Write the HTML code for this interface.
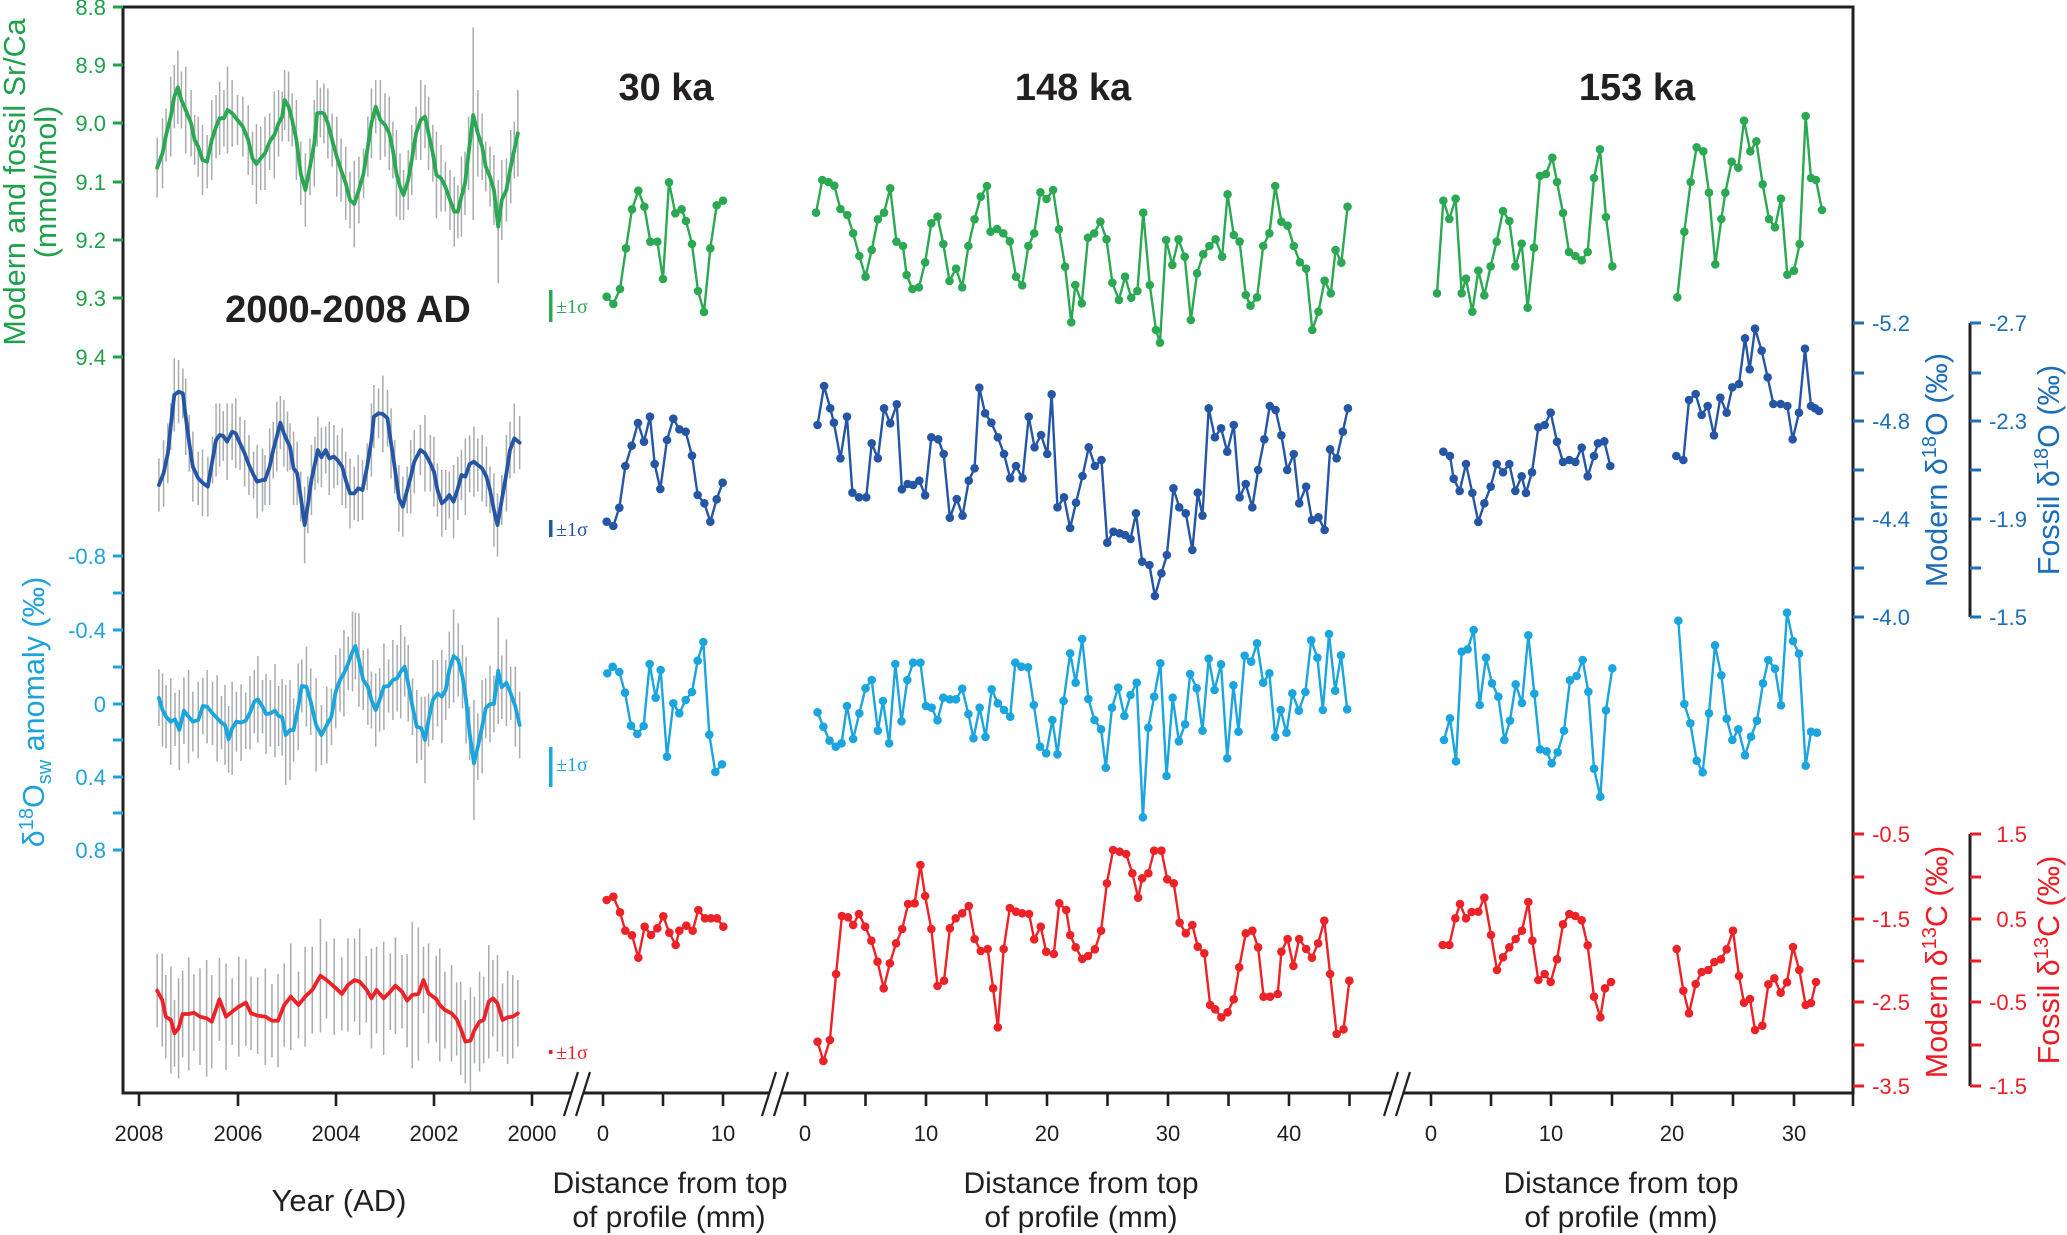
<!DOCTYPE html>
<html><head><meta charset="utf-8"><style>
html,body{margin:0;padding:0;background:#fff;}
svg{display:block;font-family:"Liberation Sans",Arial,sans-serif;}
.ln{fill:none;stroke-linejoin:round;stroke-linecap:round;vector-effect:non-scaling-stroke;}
.bar{fill:none;stroke:#a9abae;stroke-width:1.5;vector-effect:non-scaling-stroke;}
</style></head><body>
<svg width="2067" height="1235" viewBox="0 0 2067 1235" xmlns="http://www.w3.org/2000/svg">
<defs>
<marker id="g3" markerUnits="userSpaceOnUse" overflow="visible" markerWidth="1" markerHeight="1"><ellipse rx="12.9" ry="12.9" fill="#2aa952"/></marker>
<marker id="b3" markerUnits="userSpaceOnUse" overflow="visible" markerWidth="1" markerHeight="1"><ellipse rx="12.9" ry="12.9" fill="#2456a5"/></marker>
<marker id="l3" markerUnits="userSpaceOnUse" overflow="visible" markerWidth="1" markerHeight="1"><ellipse rx="12.9" ry="12.9" fill="#1ba5de"/></marker>
<marker id="r3" markerUnits="userSpaceOnUse" overflow="visible" markerWidth="1" markerHeight="1"><ellipse rx="12.9" ry="12.9" fill="#ec2227"/></marker>
<marker id="g4" markerUnits="userSpaceOnUse" overflow="visible" markerWidth="1" markerHeight="1"><ellipse rx="11.83" ry="12.9" fill="#2aa952"/></marker>
<marker id="b4" markerUnits="userSpaceOnUse" overflow="visible" markerWidth="1" markerHeight="1"><ellipse rx="11.83" ry="12.9" fill="#2456a5"/></marker>
<marker id="l4" markerUnits="userSpaceOnUse" overflow="visible" markerWidth="1" markerHeight="1"><ellipse rx="11.83" ry="12.9" fill="#1ba5de"/></marker>
<marker id="r4" markerUnits="userSpaceOnUse" overflow="visible" markerWidth="1" markerHeight="1"><ellipse rx="11.83" ry="12.9" fill="#ec2227"/></marker>
</defs>
<rect width="2067" height="1235" fill="#fff"/>

<!-- ===== Modern section: error bars ===== -->
<g transform="scale(0.35714,0.33333)">
<path class="bar" d="M440 503m0-90v180M455 460m0-105v210M465 405m0-80v160M478 350m0-120v240M488 290m0-95v190M498 262m0-110v220M508 300m0-85v170M520 330m0-130v260M535 370m0-100v200M545 420m0-75v150M555 440m0-90v180M567 480m0-105v210M580 485m0-80v160M593 420m0-120v240M605 380m0-95v190M615 355m0-110v220M627 355m0-85v170M637 330m0-130v260M650 340m0-100v200M665 360m0-75v150M680 380m0-90v180M695 420m0-105v210M707 475m0-80v160M718 492m0-120v240M730 475m0-95v190M742 460m0-110v220M755 425m0-85v170M768 405m0-130v260M780 370m0-100v200M790 350m0-75v150M797 300m0-90v180M808 320m0-105v210M818 360m0-80v160M830 420m0-120v240M842 520m0-95v190M855 570m0-110v220M868 500m0-85v170M880 430m0-130v260M888 340m0-100v200M897 338m0-75v150M907 340m0-90v180M918 370m0-105v210M930 420m0-80v160M943 470m0-120v240M955 510m0-95v190M968 550m0-110v220M980 600m0-85v170M992 612m0-130v260M1005 570m0-100v200M1018 520m0-75v150M1030 440m0-90v180M1040 370m0-105v210M1052 320m0-80v160M1065 360m0-120v240M1078 375m0-95v190M1090 400m0-110v220M1100 450m0-85v170M1110 520m0-130v260M1120 560m0-100v200M1130 585m0-75v150M1143 540m0-90v180M1153 480m0-105v210M1165 400m0-80v160M1178 360m0-120v240M1190 350m0-95v190M1200 400m0-110v220M1212 460m0-85v170M1222 525m0-130v260M1235 535m0-100v200M1247 560m0-75v150M1260 600m0-90v180M1272 635m0-105v210M1282 635m0-80v160M1292 590m0-120v240M1302 550m0-95v190M1312 460m0-110v220M1325 345m0-263v578M1338 400m0-130v260M1350 440m0-100v200M1360 500m0-75v150M1372 530m0-90v180M1383 570m0-105v210M1395 680m0-140v310M1405 600m0-120v240M1418 570m0-95v190M1430 500m0-110v220M1440 450m0-85v170M1450 400m0-130v260"/>
</g>
<g transform="translate(0,400) scale(0.35714,0.33333)">
<path class="bar" d="M445 255m0-80v160M458 220m0-100v200M470 160m0-90v180M478 80m0-70v140M488 -15m0-110v220M500 -25m0-95v190M512 -20m0-75v150M520 50m0-115v230M530 130m0-85v170M540 200m0-105v210M555 235m0-80v160M567 248m0-100v200M582 260m0-90v180M595 180m0-70v140M605 120m0-110v220M615 105m0-95v190M625 108m0-75v150M636 125m0-115v230M650 95m0-85v170M660 100m0-105v210M672 130m0-80v160M685 160m0-100v200M697 195m0-90v180M710 225m0-70v140M720 245m0-110v220M735 240m0-95v190M742 240m0-75v150M755 200m0-115v230M765 150m0-85v170M775 110m0-105v210M785 68m0-80v160M795 100m0-100v200M805 125m0-90v180M812 140m0-70v140M822 205m0-110v220M832 220m0-95v190M842 290m0-75v150M853 375m0-115v230M862 315m0-85v170M872 240m0-105v210M882 190m0-80v160M890 150m0-100v200M900 172m0-90v180M912 150m0-70v140M922 175m0-110v220M935 170m0-95v190M945 180m0-75v150M958 200m0-115v230M968 240m0-85v170M980 280m0-105v210M992 280m0-80v160M1003 265m0-100v200M1015 270m0-90v180M1028 200m0-70v140M1040 120m0-110v220M1047 50m0-95v190M1060 40m0-75v150M1072 42m0-115v230M1085 55m0-85v170M1095 130m0-105v210M1105 200m0-80v160M1117 295m0-100v200M1128 320m0-90v180M1140 270m0-70v140M1150 230m0-110v220M1160 185m0-95v190M1177 150m0-75v150M1190 160m0-115v230M1205 190m0-85v170M1215 215m0-105v210M1225 270m0-80v160M1237 310m0-100v200M1248 300m0-90v180M1258 285m0-70v140M1270 305m0-110v220M1282 265m0-95v190M1292 225m0-75v150M1303 230m0-115v230M1315 192m0-85v170M1327 185m0-105v210M1338 195m0-80v160M1350 205m0-100v200M1362 230m0-90v180M1372 270m0-70v140M1383 330m0-110v220M1393 375m0-95v190M1405 300m0-75v150M1418 220m0-115v230M1428 150m0-85v170M1440 115m0-105v210M1455 128m0-80v160"/>
<path class="bar" d="M445 893m0-85v170M455 930m0-110v220M465 950m0-95v190M478 965m0-130v260M490 958m0-80v160M502 990m0-120v240M515 932m0-100v200M528 950m0-140v280M540 965m0-90v180M555 960m0-115v230M568 918m0-85v170M580 920m0-110v220M595 940m0-95v190M608 955m0-130v260M620 968m0-80v160M630 975m0-120v240M640 1018m0-100v200M650 985m0-140v280M662 965m0-90v180M675 968m0-115v230M688 962m0-85v170M700 938m0-110v220M712 905m0-95v190M722 898m0-130v260M735 920m0-80v160M745 942m0-120v240M757 940m0-100v200M770 932m0-140v280M780 948m0-90v180M790 952m0-115v230M800 1005m0-150v300M812 990m0-150v300M822 990m0-95v190M835 920m0-130v260M845 858m0-80v160M858 860m0-120v240M870 905m0-100v200M885 975m0-140v280M900 1005m0-90v180M915 975m0-115v230M928 950m0-85v170M940 875m0-110v220M952 840m0-95v190M963 820m0-130v260M975 790m0-80v160M987 755m0-120v240M995 738m0-100v200M1005 780m0-140v280M1017 840m0-90v180M1030 860m0-115v230M1040 900m0-85v170M1052 930m0-110v220M1063 900m0-95v190M1075 860m0-130v260M1088 858m0-80v160M1100 840m0-120v240M1112 835m0-100v200M1122 815m0-140v280M1133 800m0-90v180M1143 850m0-115v230M1155 920m0-85v170M1167 980m0-110v220M1180 985m0-95v190M1190 1020m0-130v260M1200 960m0-80v160M1212 900m0-120v240M1225 880m0-100v200M1237 890m0-140v280M1248 870m0-90v180M1258 810m0-115v230M1270 768m0-140v280M1283 780m0-110v220M1295 830m0-95v190M1305 900m0-130v260M1315 1000m0-80v160M1327 1090m0-190v360M1338 1040m0-100v200M1350 980m0-140v280M1360 925m0-90v180M1372 912m0-115v230M1383 912m0-85v170M1395 812m0-160v320M1405 862m0-95v190M1418 848m0-130v260M1430 880m0-80v160M1443 920m0-120v240M1455 975m0-100v200"/>
</g>
<g transform="translate(0,820) scale(0.5102,0.33333)">
<path class="bar" d="M308 512m0-110v220M318 540m0-140v280M325 590m0-125v250M335 600m0-160v320M342 640m0-100v200M350 625m0-150v300M358 582m0-130v260M370 582m0-170v340M380 578m0-115v230M392 590m0-145v290M405 595m0-175v350M415 605m0-140v280M430 538m0-125v250M443 590m0-160v320M455 575m0-100v200M468 560m0-150v300M482 548m0-130v260M492 580m0-110v220M505 587m0-115v230M520 590m0-145v290M533 602m0-110v220M545 602m0-140v280M557 555m0-125v250M570 530m0-160v320M585 555m0-100v200M598 530m0-150v300M612 510m0-130v260M628 467m0-170v340M640 480m0-115v230M655 500m0-145v290M670 522m0-110v220M682 495m0-140v280M695 480m0-125v250M705 485m0-160v320M718 508m0-100v200M728 535m0-150v300M738 510m0-130v260M752 535m0-170v340M765 515m0-115v230M775 497m0-145v290M788 515m0-110v220M798 542m0-140v280M808 525m0-220v440M820 522m0-200v400M830 480m0-100v200M840 520m0-150v300M855 537m0-130v260M862 555m0-170v340M872 570m0-115v230M885 580m0-145v290M895 597m0-110v220M903 625m0-140v280M912 665m0-125v250M922 662m0-160v320M930 630m0-100v200M940 605m0-150v300M948 600m0-130v260M958 545m0-170v340M966 535m0-115v230M975 550m0-145v290M985 600m0-110v220M995 592m0-140v280M1005 590m0-125v250M1015 580m0-100v200"/>
</g>

<!-- ===== Modern section: lines ===== -->
<g transform="scale(0.35714,0.33333)">
<polyline class="ln" stroke="#2aa952" stroke-width="3.8" points="440,503 455,460 465,405 478,350 488,290 498,262 508,300 520,330 535,370 545,420 555,440 567,480 580,485 593,420 605,380 615,355 627,355 637,330 650,340 665,360 680,380 695,420 707,475 718,492 730,475 742,460 755,425 768,405 780,370 790,350 797,300 808,320 818,360 830,420 842,520 855,570 868,500 880,430 888,340 897,338 907,340 918,370 930,420 943,470 955,510 968,550 980,600 992,612 1005,570 1018,520 1030,440 1040,370 1052,320 1065,360 1078,375 1090,400 1100,450 1110,520 1120,560 1130,585 1143,540 1153,480 1165,400 1178,360 1190,350 1200,400 1212,460 1222,525 1235,535 1247,560 1260,600 1272,635 1282,635 1292,590 1302,550 1312,460 1325,345 1338,400 1350,440 1360,500 1372,530 1383,570 1395,680 1405,600 1418,570 1430,500 1440,450 1450,400"/>
</g>
<g transform="translate(0,400) scale(0.35714,0.33333)">
<polyline class="ln" stroke="#2456a5" stroke-width="3.8" points="445,255 458,220 470,160 478,80 488,-15 500,-25 512,-20 520,50 530,130 540,200 555,235 567,248 582,260 595,180 605,120 615,105 625,108 636,125 650,95 660,100 672,130 685,160 697,195 710,225 720,245 735,240 742,240 755,200 765,150 775,110 785,68 795,100 805,125 812,140 822,205 832,220 842,290 853,375 862,315 872,240 882,190 890,150 900,172 912,150 922,175 935,170 945,180 958,200 968,240 980,280 992,280 1003,265 1015,270 1028,200 1040,120 1047,50 1060,40 1072,42 1085,55 1095,130 1105,200 1117,295 1128,320 1140,270 1150,230 1160,185 1177,150 1190,160 1205,190 1215,215 1225,270 1237,310 1248,300 1258,285 1270,305 1282,265 1292,225 1303,230 1315,192 1327,185 1338,195 1350,205 1362,230 1372,270 1383,330 1393,375 1405,300 1418,220 1428,150 1440,115 1455,128"/>
<polyline class="ln" stroke="#1ba5de" stroke-width="3.8" points="445,893 455,930 465,950 478,965 490,958 502,990 515,932 528,950 540,965 555,960 568,918 580,920 595,940 608,955 620,968 630,975 640,1018 650,985 662,965 675,968 688,962 700,938 712,905 722,898 735,920 745,942 757,940 770,932 780,948 790,952 800,1005 812,990 822,990 835,920 845,858 858,860 870,905 885,975 900,1005 915,975 928,950 940,875 952,840 963,820 975,790 987,755 995,738 1005,780 1017,840 1030,860 1040,900 1052,930 1063,900 1075,860 1088,858 1100,840 1112,835 1122,815 1133,800 1143,850 1155,920 1167,980 1180,985 1190,1020 1200,960 1212,900 1225,880 1237,890 1248,870 1258,810 1270,768 1283,780 1295,830 1305,900 1315,1000 1327,1090 1338,1040 1350,980 1360,925 1372,912 1383,912 1395,812 1405,862 1418,848 1430,880 1443,920 1455,975"/>
</g>
<g transform="translate(0,820) scale(0.5102,0.33333)">
<polyline class="ln" stroke="#ec2227" stroke-width="3.8" points="308,512 318,540 325,590 335,600 342,640 350,625 358,582 370,582 380,578 392,590 405,595 415,605 430,538 443,590 455,575 468,560 482,548 492,580 505,587 520,590 533,602 545,602 557,555 570,530 585,555 598,530 612,510 628,467 640,480 655,500 670,522 682,495 695,480 705,485 718,508 728,535 738,510 752,535 765,515 775,497 788,515 798,542 808,525 820,522 830,480 840,520 855,537 862,555 872,570 885,580 895,597 903,625 912,665 922,662 930,630 940,605 948,600 958,545 966,535 975,550 985,600 995,592 1005,590 1015,580"/>
</g>

<!-- ===== 30 ka ===== -->
<g transform="translate(590,160) scale(0.33333)">
<polyline class="ln" stroke="#2aa952" stroke-width="2.4" marker-start="url(#g3)" marker-mid="url(#g3)" marker-end="url(#g3)" points="50,410 70,432 90,387 108,265 126,148 145,92 163,140 181,245 202,245 219,357 237,67 256,160 275,148 288,183 306,252 324,393 342,456 361,265 380,136 399,122"/>
<polyline class="ln" stroke="#2456a5" stroke-width="2.4" marker-start="url(#b3)" marker-mid="url(#b3)" marker-end="url(#b3)" points="50,1085 70,1098 88,1043 106,918 125,857 144,789 162,845 180,770 194,912 211,987 231,840 250,776 268,808 287,815 306,887 323,1005 343,1030 361,1085 380,1018 398,968"/>
</g>
<g transform="translate(590,560) scale(0.33333)">
<polyline class="ln" stroke="#1ba5de" stroke-width="2.4" marker-start="url(#l3)" marker-mid="url(#l3)" marker-end="url(#l3)" points="52,340 68,320 88,336 105,398 123,497 142,522 161,498 179,312 197,413 212,330 231,590 250,430 268,460 287,420 306,396 323,302 340,246 358,524 376,636 396,613"/>
<polyline class="ln" stroke="#ec2227" stroke-width="2.4" marker-start="url(#r3)" marker-mid="url(#r3)" marker-end="url(#r3)" points="50,1020 70,1010 90,1057 106,1112 126,1126 145,1193 164,1100 183,1125 202,1105 220,1069 238,1118 257,1155 268,1112 289,1097 308,1112 325,1050 345,1075 363,1075 381,1075 400,1100"/>
</g>

<!-- ===== 148 ka ===== -->
<g transform="translate(795,160) scale(0.36352,0.33333)">
<polyline class="ln" stroke="#2aa952" stroke-width="2.4" marker-start="url(#g4)" marker-mid="url(#g4)" marker-end="url(#g4)" points="58,158 75,60 92,66 108,77 125,147 144,165 160,220 177,288 194,350 211,270 228,178 245,158 262,85 279,245 297,258 307,345 323,387 341,382 358,307 375,190 392,170 408,252 425,363 443,326 460,382 477,258 494,178 511,110 528,78 538,215 556,207 573,220 591,244 608,350 625,376 642,258 658,220 675,97 692,117 710,90 726,208 743,320 760,487 771,375 789,430 806,233 823,220 840,185 857,238 873,368 891,420 908,350 925,413 942,393 958,158 976,375 993,510 1004,548 1021,240 1038,315 1055,238 1072,290 1089,480 1106,340 1123,283 1140,258 1157,238 1175,290 1190,103 1207,225 1223,245 1240,405 1253,437 1271,412 1288,258 1305,220 1321,78 1338,185 1355,197 1372,258 1389,307 1406,326 1423,510 1440,455 1457,362 1474,400 1487,270 1503,308 1520,140"/>
<polyline class="ln" stroke="#2456a5" stroke-width="2.4" marker-start="url(#b4)" marker-mid="url(#b4)" marker-end="url(#b4)" points="62,795 80,678 97,745 107,788 125,895 143,770 158,998 176,1012 196,1012 211,850 228,895 245,745 262,790 280,733 294,988 310,972 325,975 342,962 358,1006 375,832 394,838 409,882 426,1073 445,1017 461,1067 478,962 494,925 507,683 523,760 540,788 558,832 575,882 592,955 608,918 626,955 643,770 659,862 677,825 694,882 706,703 722,1042 740,1012 757,1104 773,1028 791,948 808,862 825,918 843,900 859,1148 876,1115 893,1120 908,1125 923,1137 938,1060 955,1205 975,1215 990,1308 1008,1240 1023,1185 1041,985 1057,1042 1075,1060 1093,1170 1108,998 1121,1067 1138,745 1155,832 1172,805 1189,875 1207,795 1223,1012 1240,972 1258,1042 1274,930 1291,838 1306,738 1322,750 1338,826 1354,930 1372,882 1387,1030 1406,980 1422,1080 1440,1072 1457,1110 1472,868 1490,895 1507,815 1521,745"/>
</g>
<g transform="translate(795,560) scale(0.36352,0.33333)">
<polyline class="ln" stroke="#1ba5de" stroke-width="2.4" marker-start="url(#l4)" marker-mid="url(#l4)" marker-end="url(#l4)" points="62,457 78,500 95,542 112,560 128,550 143,438 160,537 177,460 194,385 211,360 228,512 242,423 259,550 276,312 293,484 309,360 325,308 345,308 360,438 376,443 392,481 408,413 426,418 443,418 460,386 477,462 491,535 508,443 524,531 541,388 558,430 575,450 592,470 606,308 623,320 641,322 657,435 674,560 691,580 708,480 722,583 739,423 757,280 772,368 790,237 807,417 824,480 842,508 855,623 872,443 889,383 906,468 923,405 940,368 957,772 972,503 988,410 1005,310 1022,648 1039,413 1056,544 1073,493 1087,342 1105,385 1121,512 1138,296 1154,390 1172,313 1189,595 1206,376 1220,515 1237,287 1255,305 1271,250 1288,368 1305,340 1321,531 1336,450 1352,518 1368,400 1386,452 1404,396 1420,241 1437,293 1452,450 1469,222 1486,392 1502,286 1519,448"/>
<polyline class="ln" stroke="#ec2227" stroke-width="2.4" marker-start="url(#r4)" marker-mid="url(#r4)" marker-end="url(#r4)" points="62,1445 78,1503 96,1440 113,1242 129,1068 146,1072 160,1095 176,1062 193,1100 210,1142 227,1205 244,1285 261,1210 278,1150 295,1107 311,1032 329,1030 345,915 358,1008 375,1107 392,1278 410,1262 426,1105 442,1075 460,1060 478,1038 494,1137 511,1173 530,1167 545,1285 558,1402 574,1167 591,1044 608,1055 625,1060 644,1062 658,1138 676,1100 691,1175 712,1182 727,1030 746,1050 757,1125 772,1162 790,1197 806,1188 825,1168 842,1112 858,970 875,870 893,875 911,882 928,940 944,1013 955,955 972,940 988,872 1008,872 1024,958 1042,970 1058,1088 1075,1120 1093,1095 1108,1160 1126,1180 1142,1335 1156,1348 1173,1372 1190,1357 1207,1318 1222,1222 1240,1120 1258,1112 1274,1162 1289,1310 1307,1310 1328,1302 1338,1175 1355,1137 1371,1218 1387,1137 1406,1167 1422,1193 1439,1150 1456,1082 1472,1242 1490,1422 1509,1408 1525,1262"/>
</g>

<!-- ===== 153 ka ===== -->
<g transform="translate(1415,100) scale(0.33333)">
<polyline class="ln" stroke="#2aa952" stroke-width="2.4" marker-start="url(#g3)" marker-mid="url(#g3)" marker-end="url(#g3)" points="66,580 85,302 103,357 122,296 140,580 153,536 172,635 190,512 208,586 227,499 245,425 264,333 283,363 301,499 320,431 338,623 357,443 375,228 393,222 412,173 426,246 444,339 462,456 481,468 500,481 518,456 537,234 555,148 573,351 592,499"/>
<polyline class="ln" stroke="#2aa952" stroke-width="2.4" marker-start="url(#g3)" marker-mid="url(#g3)" marker-end="url(#g3)" points="787,592 808,395 827,246 845,142 865,154 882,278 901,493 919,357 931,278 950,185 970,203 987,62 1006,154 1024,124 1043,253 1062,357 1080,382 1098,296 1117,524 1137,512 1154,432 1172,48 1188,234 1203,240 1221,330"/>
<polyline class="ln" stroke="#2456a5" stroke-width="2.4" marker-start="url(#b3)" marker-mid="url(#b3)" marker-end="url(#b3)" points="85,1055 105,1068 116,1136 134,1173 153,1092 172,1179 190,1266 208,1210 227,1160 245,1092 264,1117 283,1092 301,1173 320,1129 333,1179 351,1117 370,982 389,975 407,938 426,1025 444,1086 463,1080 481,1086 500,1043 518,1129 537,1068 549,1030 568,1024 586,1098"/>
<polyline class="ln" stroke="#2456a5" stroke-width="2.4" marker-start="url(#b3)" marker-mid="url(#b3)" marker-end="url(#b3)" points="784,1068 805,1080 822,900 842,882 860,945 878,918 897,1006 916,893 935,938 952,862 972,852 990,715 1004,808 1020,686 1040,752 1058,832 1075,912 1097,912 1117,918 1133,1018 1152,938 1170,746 1188,918 1200,925 1212,933"/>
</g>
<g transform="translate(1415,560) scale(0.33333)">
<polyline class="ln" stroke="#1ba5de" stroke-width="2.4" marker-start="url(#l3)" marker-mid="url(#l3)" marker-end="url(#l3)" points="87,540 105,475 123,604 140,275 158,268 176,210 194,435 213,293 231,370 250,410 268,540 285,482 302,373 321,429 340,226 358,401 375,568 395,574 410,610 428,577 447,512 465,361 485,348 503,300 520,395 537,626 556,710 573,451 592,325"/>
<polyline class="ln" stroke="#1ba5de" stroke-width="2.4" marker-start="url(#l3)" marker-mid="url(#l3)" marker-end="url(#l3)" points="790,182 808,432 826,490 845,602 863,637 882,460 900,256 919,346 935,476 952,540 970,508 990,586 1008,530 1026,482 1044,370 1060,300 1080,326 1098,436 1116,158 1134,243 1152,281 1172,617 1188,515 1206,518"/>
<polyline class="ln" stroke="#ec2227" stroke-width="2.4" marker-start="url(#r3)" marker-mid="url(#r3)" marker-end="url(#r3)" points="83,1155 103,1155 121,1075 135,1032 153,1075 170,1056 190,1055 208,1013 228,1125 246,1230 264,1192 283,1162 302,1137 321,1112 340,1026 352,1142 370,1260 389,1242 407,1266 426,1198 444,1093 463,1062 481,1068 500,1081 518,1156 537,1310 556,1372 570,1285 588,1266"/>
<polyline class="ln" stroke="#ec2227" stroke-width="2.4" marker-start="url(#r3)" marker-mid="url(#r3)" marker-end="url(#r3)" points="785,1167 805,1292 822,1360 842,1272 860,1236 880,1230 898,1206 918,1198 935,1168 954,1112 972,1248 987,1328 1005,1317 1020,1410 1042,1397 1060,1273 1078,1255 1097,1298 1116,1267 1134,1161 1153,1230 1172,1335 1188,1329 1203,1266"/>
</g>

<!-- ===== Axes frame ===== -->
<g stroke="#231f20" stroke-width="3" fill="none">
<line x1="123" y1="5.5" x2="123" y2="1094.5"/>
<line x1="121.5" y1="7" x2="1854.5" y2="7"/>
<line x1="1853" y1="5.5" x2="1853" y2="1094.5"/>
<line x1="121.5" y1="1093" x2="1854.5" y2="1093"/>
<line x1="1970" y1="323" x2="1970" y2="617"/>
<line x1="1970" y1="834" x2="1970" y2="1086"/>
</g>
<!-- bottom ticks -->
<g stroke="#231f20" stroke-width="2.6">
<path d="M139 1093V1106M238 1093V1106M336 1093V1106M434 1093V1106M532 1093V1106M603 1093V1106M663 1093V1106M723 1093V1106M805 1093V1106M865.5 1093V1106M926 1093V1106M986.5 1093V1106M1047 1093V1106M1107.5 1093V1106M1168 1093V1106M1228.5 1093V1106M1289 1093V1106M1349.5 1093V1106M1431 1093V1106M1491 1093V1106M1551 1093V1106M1612 1093V1106M1672 1093V1106M1733 1093V1106M1794 1093V1106M1853 1093V1106"/>
</g>
<!-- axis breaks -->
<g>
<polygon points="564,1116 578,1072 590,1072 576,1116" fill="#fff"/>
<polygon points="762,1116 776,1072 788,1072 774,1116" fill="#fff"/>
<polygon points="1384,1116 1398,1072 1410,1072 1396,1116" fill="#fff"/>
<g stroke="#231f20" stroke-width="2.2">
<line x1="564" y1="1116" x2="578" y2="1072"/><line x1="576" y1="1116" x2="590" y2="1072"/>
<line x1="762" y1="1116" x2="776" y2="1072"/><line x1="774" y1="1116" x2="788" y2="1072"/>
<line x1="1384" y1="1116" x2="1398" y2="1072"/><line x1="1396" y1="1116" x2="1410" y2="1072"/>
</g>
</g>

<!-- left ticks -->
<g stroke="#1fa04a" stroke-width="3">
<path d="M113 7H123M113 65H123M113 123H123M113 182H123M113 240H123M113 298H123M113 357H123"/>
</g>
<g stroke="#1ea2dc" stroke-width="3">
<path d="M113 556H123M113 593H123M113 630H123M113 667H123M113 704H123M113 740H123M113 777H123M113 813H123M113 850H123"/>
</g>
<!-- right ticks -->
<g stroke="#1b6eb7" stroke-width="3">
<path d="M1853 323H1864M1853 373H1864M1853 421H1864M1853 470H1864M1853 519H1864M1853 568H1864M1853 617H1864"/>
<path d="M1970 323H1981M1970 373H1981M1970 421H1981M1970 470H1981M1970 519H1981M1970 568H1981M1970 617H1981"/>
</g>
<g stroke="#ee1c24" stroke-width="3">
<path d="M1853 834H1864M1853 877H1864M1853 919H1864M1853 961H1864M1853 1002H1864M1853 1045H1864M1853 1086H1864"/>
<path d="M1970 834H1981M1970 877H1981M1970 919H1981M1970 961H1981M1970 1002H1981M1970 1045H1981M1970 1086H1981"/>
</g>

<!-- tick labels -->
<g font-size="22" fill="#1fa04a" text-anchor="end">
<text x="106" y="15">8.8</text><text x="106" y="73">8.9</text><text x="106" y="131">9.0</text><text x="106" y="190">9.1</text><text x="106" y="248">9.2</text><text x="106" y="306">9.3</text><text x="106" y="365">9.4</text>
</g>
<g font-size="22" fill="#1ea2dc" text-anchor="end">
<text x="106" y="564">-0.8</text><text x="106" y="638">-0.4</text><text x="106" y="712">0</text><text x="106" y="785">0.4</text><text x="106" y="858">0.8</text>
</g>
<g font-size="22" fill="#1b6eb7" text-anchor="end">
<text x="1910" y="331">-5.2</text><text x="1910" y="429">-4.8</text><text x="1910" y="527">-4.4</text><text x="1910" y="625">-4.0</text>
<text x="2027" y="331">-2.7</text><text x="2027" y="429">-2.3</text><text x="2027" y="527">-1.9</text><text x="2027" y="625">-1.5</text>
</g>
<g font-size="22" fill="#ee1c24" text-anchor="end">
<text x="1910" y="842">-0.5</text><text x="1910" y="927">-1.5</text><text x="1910" y="1010">-2.5</text><text x="1910" y="1094">-3.5</text>
<text x="2027" y="842">1.5</text><text x="2027" y="927">0.5</text><text x="2027" y="1010">-0.5</text><text x="2027" y="1094">-1.5</text>
</g>
<g font-size="22" fill="#231f20" text-anchor="middle">
<text x="139" y="1141">2008</text><text x="238" y="1141">2006</text><text x="336" y="1141">2004</text><text x="434" y="1141">2002</text><text x="532" y="1141">2000</text>
<text x="603" y="1141">0</text><text x="723" y="1141">10</text>
<text x="805" y="1141">0</text><text x="926" y="1141">10</text><text x="1047" y="1141">20</text><text x="1168" y="1141">30</text><text x="1289" y="1141">40</text>
<text x="1431" y="1141">0</text><text x="1551" y="1141">10</text><text x="1672" y="1141">20</text><text x="1794" y="1141">30</text>
</g>

<!-- axis titles bottom -->
<g font-size="30" fill="#231f20" text-anchor="middle">
<text x="339" y="1211" font-size="31">Year (AD)</text>
<text x="670" y="1193">Distance from top</text><text x="669" y="1227">of profile (mm)</text>
<text x="1081" y="1193">Distance from top</text><text x="1081" y="1227">of profile (mm)</text>
<text x="1621" y="1193">Distance from top</text><text x="1621" y="1227">of profile (mm)</text>
</g>

<!-- rotated axis titles -->
<g font-size="30.5" text-anchor="middle">
<text transform="translate(25,182) rotate(-90)" fill="#1fa04a">Modern and fossil Sr/Ca</text>
<text transform="translate(56,182) rotate(-90)" fill="#1fa04a">(mmol/mol)</text>
<text transform="translate(44,712) rotate(-90)" fill="#1ea2dc">δ<tspan font-size="20" dy="-11">18</tspan><tspan dy="11">O</tspan><tspan font-size="20" dy="7">sw</tspan><tspan dy="-7"> anomaly (‰)</tspan></text>
<text transform="translate(1947,470) rotate(-90)" fill="#1b6eb7">Modern δ<tspan font-size="20" dy="-11">18</tspan><tspan dy="11">O (‰)</tspan></text>
<text transform="translate(2059,470) rotate(-90)" fill="#1b6eb7">Fossil δ<tspan font-size="20" dy="-11">18</tspan><tspan dy="11">O (‰)</tspan></text>
<text transform="translate(1947,962) rotate(-90)" fill="#ee1c24">Modern δ<tspan font-size="20" dy="-11">13</tspan><tspan dy="11">C (‰)</tspan></text>
<text transform="translate(2059,960) rotate(-90)" fill="#ee1c24">Fossil δ<tspan font-size="20" dy="-11">13</tspan><tspan dy="11">C (‰)</tspan></text>
</g>

<!-- section titles -->
<g font-size="38" font-weight="bold" fill="#231f20" text-anchor="middle">
<text x="348" y="322">2000-2008 AD</text>
<text x="666" y="100">30 ka</text>
<text x="1073" y="100">148 ka</text>
<text x="1637" y="100">153 ka</text>
</g>

<!-- ±1σ markers -->
<rect x="549" y="290" width="3.5" height="32" fill="#2aa952"/>
<text x="556" y="313" font-size="20" fill="#2aa952" font-family="Liberation Serif, serif">±1σ</text>
<rect x="549" y="520" width="3.5" height="17" fill="#2456a5"/>
<text x="556" y="536" font-size="20" fill="#2456a5" font-family="Liberation Serif, serif">±1σ</text>
<rect x="549" y="747" width="3.5" height="40" fill="#1ba5de"/>
<text x="556" y="771" font-size="20" fill="#1ba5de" font-family="Liberation Serif, serif">±1σ</text>
<rect x="549" y="1050" width="3.5" height="4" fill="#ec2227"/>
<text x="556" y="1059" font-size="20" fill="#ec2227" font-family="Liberation Serif, serif">±1σ</text>
</svg>
</body></html>
